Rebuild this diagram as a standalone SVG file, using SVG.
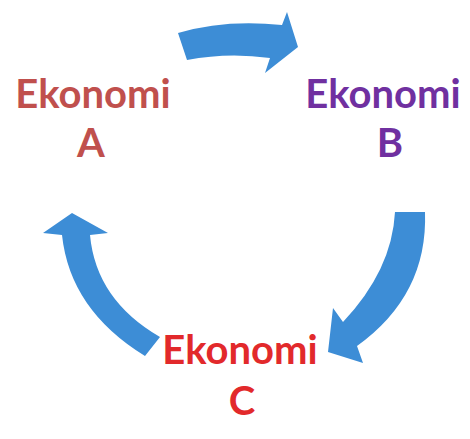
<svg xmlns="http://www.w3.org/2000/svg" width="470" height="439" viewBox="0 0 470 439">
<style>
.lbl{font-family:Lato,"Open Sans","Liberation Sans",sans-serif;font-weight:bold;font-size:40px;text-anchor:middle}
.arr{fill:#3d8dd6}
</style>
<rect width="470" height="439" fill="#ffffff"/>
<g id="connectors">
<path class="arr" d="M178,33 Q225,19 282,25 L287,12 L298,47 L265,73 L270,58 Q228,52 187,60 Z"/>
<path class="arr" d="M395,212 L425,212 Q428,295 357,346 L363,363 L328,352 L333,308 L343,322 Q392,270 395,212 Z"/>
<path class="arr" d="M72,213 L108,233 L90,235 Q96,300 160,337 L145,356 Q70,310 62,235 L43,233 Z"/>
</g>
<g id="nodeA">
<text class="lbl" x="93" y="108" fill="#c0504d">Ekonomi</text>
<text class="lbl" x="91" y="157" fill="#c0504d">A</text>
</g>
<g id="nodeB">
<text class="lbl" x="383" y="108" fill="#7030a0">Ekonomi</text>
<text class="lbl" x="390" y="157" fill="#7030a0">B</text>
</g>
<g id="nodeC">
<text class="lbl" x="240" y="364" fill="#e2292b">Ekonomi</text>
<text class="lbl" x="242" y="415" fill="#e2292b">C</text>
</g>
</svg>
